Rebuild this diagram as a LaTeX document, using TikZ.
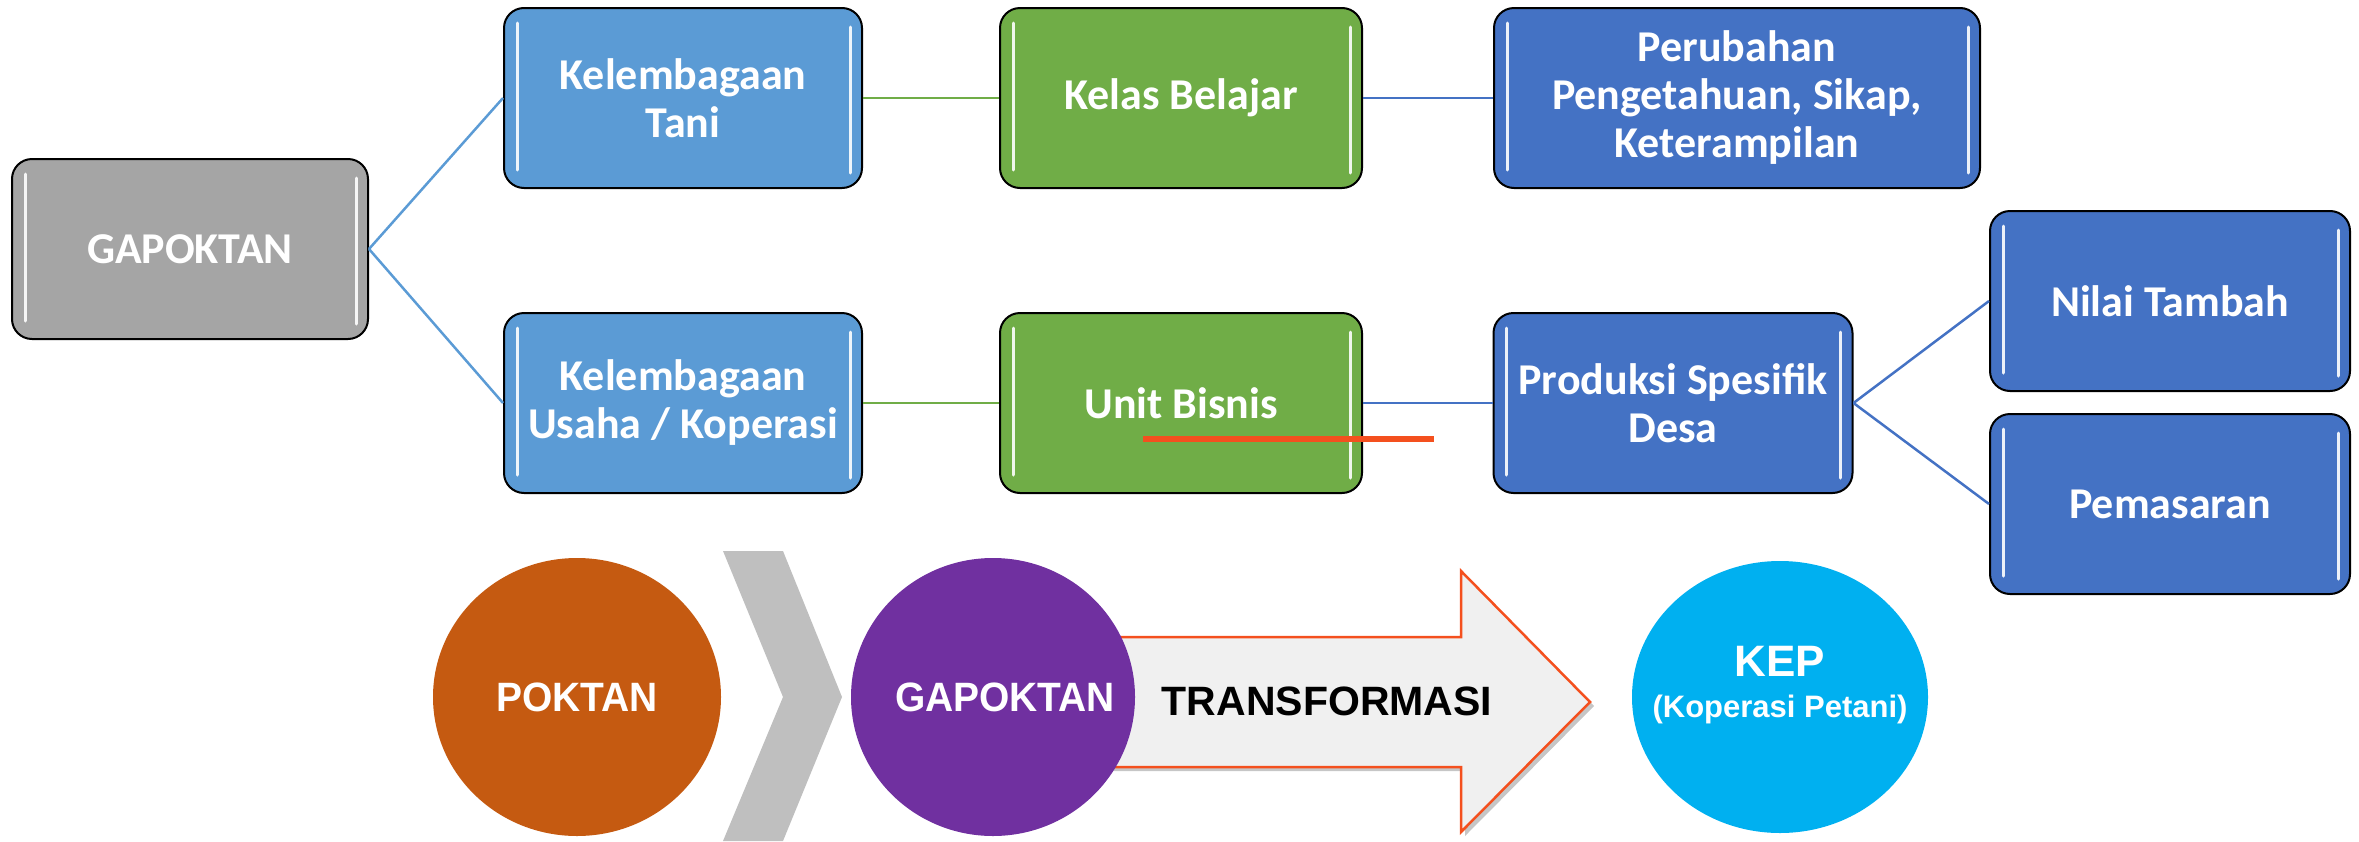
\documentclass[tikz,border=0pt]{standalone}
\usepackage{fontspec}
\setmainfont{Carlito}
\newfontfamily\arialfont{Liberation Sans}
\usepackage{tikz}
\usetikzlibrary{shapes.geometric,shadows}

\definecolor{stonegray}{HTML}{A5A5A5}
\definecolor{paleblue}{HTML}{5B9BD5}
\definecolor{leafgreen}{HTML}{70AD47}
\definecolor{deepblue}{HTML}{4472C4}
\definecolor{rust}{HTML}{C55A11}
\definecolor{plum}{HTML}{7030A0}
\definecolor{sky}{HTML}{00B0F0}
\definecolor{chevgray}{HTML}{BFBFBF}
\definecolor{flame}{HTML}{F4501E}
\definecolor{arrowfill}{HTML}{F0F0F0}

\begin{document}
\begin{tikzpicture}[x=1pt, y=-1pt,
        box/.style={draw=black, line width=2pt, rounded corners=20pt, text=white,
            align=center, minimum width=358pt, minimum height=180pt, inner sep=0pt,
            font=\fontsize{44}{48}\selectfont\bfseries,
            path picture={
                \draw [white, line width=3pt, line cap=round, opacity=0.9]
                    ([xshift=13pt, yshift=-15pt]path picture bounding box.north west) --
                    ([xshift=13pt, yshift=18pt]path picture bounding box.south west);
                \draw [white, line width=3pt, line cap=round, opacity=0.9]
                    ([xshift=-12pt, yshift=-19pt]path picture bounding box.north east) --
                    ([xshift=-12pt, yshift=15pt]path picture bounding box.south east);
            }},
        link/.style={line width=2.5pt},
        blob/.style={ellipse, minimum width=288pt, minimum height=278pt, inner sep=0pt},
        bigtext/.style={font=\arialfont\fontsize{41}{44}\selectfont\bfseries}]
        \useasboundingbox (0,0) rectangle (2359,841);
        \node [box, fill=stonegray, minimum width=356pt] (gapoktan) at (190, 249) {GAPOKTAN};
        \node [box, fill=paleblue] (tani) at (683, 98) {Kelembagaan\\Tani};
        \node [box, fill=leafgreen, minimum width=362pt] (kelas) at (1181, 98) {Kelas Belajar};
        \node [box, fill=deepblue, minimum width=486pt] (perubahan) at (1737, 98) {Perubahan\\Pengetahuan, Sikap,\\Keterampilan};
        \node [box, fill=paleblue] (usaha) at (683, 403) {Kelembagaan\\Usaha / Koperasi};
        \node [box, fill=leafgreen, minimum width=362pt] (bisnis) at (1181, 403) {Unit Bisnis};
        \node [box, fill=deepblue, minimum width=359pt] (produksi) at (1673, 403) {Produksi Spesifik\\Desa};
        \node [box, fill=deepblue, minimum width=360pt] (nilai) at (2170, 301) {Nilai Tambah};
        \node [box, fill=deepblue, minimum width=360pt] (pemasaran) at (2170, 504) {Pemasaran};
        \draw [link, paleblue] (gapoktan.east) -- (tani.west);
        \draw [link, paleblue] (gapoktan.east) -- (usaha.west);
        \draw [link, leafgreen] (tani.east) -- (kelas.west);
        \draw [link, leafgreen] (usaha.east) -- (bisnis.west);
        \draw [link, deepblue] (kelas.east) -- (perubahan.west);
        \draw [link, deepblue] (bisnis.east) -- (produksi.west);
        \draw [link, deepblue] (produksi.east) -- (nilai.west);
        \draw [link, deepblue] (produksi.east) -- (pemasaran.west);
        \draw [flame, line width=6pt] (1143, 439) -- (1434, 439);
        \fill [chevgray] (723, 551) -- (783, 551) -- (842, 697) -- (783, 841) -- (723, 841) -- (783, 697) -- cycle;
        \draw [flame, line width=2.5pt, fill=arrowfill, drop shadow={opacity=0.45, shadow xshift=4pt, shadow yshift=-4pt}]
            (1090, 637) -- (1461, 637) -- (1461, 571) -- (1590, 702) -- (1461, 832) -- (1461, 767) -- (1090, 767) -- cycle;
        \node [blob, fill=rust, text=white, bigtext] (poktan) at (577, 697) {\makebox[0pt]{\scalebox{0.95}[1]{POKTAN}}};
        \node [blob, fill=plum, text=white, bigtext, minimum width=284pt] (gapoktan2) at (993, 697)
            {\makebox[0pt]{\hspace*{24pt}\scalebox{0.95}[1]{GAPOKTAN}}};
        \node [bigtext, text=black] (trans) at (1327, 701) {TRANSFORMASI};
        \node [blob, fill=sky, minimum width=296pt, minimum height=272pt] (kep) at (1780, 697) {};
        \node [text=white, align=center, font=\arialfont\fontsize{44}{41}\selectfont\bfseries] (keplabel) at ([yshift=12pt]kep.center)
            {KEP\\{\fontsize{31}{41}\selectfont(Koperasi Petani)}};
    \end{tikzpicture}
\end{document}
